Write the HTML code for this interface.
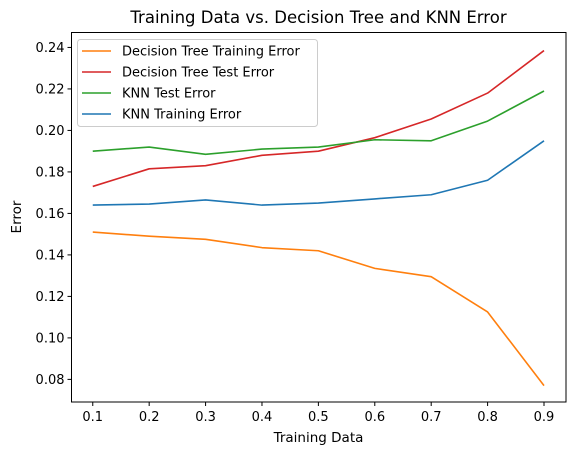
<!DOCTYPE html>
<html><head><meta charset="utf-8"><style>
body{margin:0;background:#fff}
svg text{font-family:"DejaVu Sans","Liberation Sans",sans-serif;fill:#000}
</style></head><body>
<svg id="chart" width="576" height="455" viewBox="0 0 576 455">
<rect width="576" height="455" fill="#fff"/>
<text x="318.5" y="23" font-size="16.5" text-anchor="middle">Training Data vs. Decision Tree and KNN Error</text>
<g id="marks"></g>
<rect x="71.5" y="32.5" width="494.5" height="369.5" fill="none" stroke="#000" stroke-width="1"/>
<g id="ticks"></g>
<text x="318.5" y="442" font-size="13.5" text-anchor="middle">Training Data</text>
<text x="0" y="0" font-size="13.5" text-anchor="middle" transform="translate(21,217) rotate(-90)">Error</text>
<g id="legend"></g>
</svg>
<script>
const xValues = [0.1,0.2,0.3,0.4,0.5,0.6,0.7,0.8,0.9];
const dtTrain = [0.151,0.149,0.1475,0.1435,0.142,0.1335,0.1295,0.1125,0.077];
const dtTest = [0.173,0.1815,0.183,0.188,0.190,0.1965,0.2055,0.218,0.2385];
const knnTest = [0.190,0.192,0.1885,0.191,0.192,0.1955,0.195,0.2045,0.219];
const knnTrain = [0.164,0.1645,0.1665,0.164,0.165,0.167,0.169,0.176,0.195];
const xTicks = [0.1,0.2,0.3,0.4,0.5,0.6,0.7,0.8,0.9];
const yTicks = [0.08,0.10,0.12,0.14,0.16,0.18,0.20,0.22,0.24];
const seriesNames = ["Decision Tree Training Error","Decision Tree Test Error","KNN Test Error","KNN Training Error"];

const NS="http://www.w3.org/2000/svg";
const L=71.5,R=566,T=32.5,B=402;
const xMin=0.0623,xMax=0.939,yMin=0.0691,yMax=0.2472;
function xs(v){return L+(v-xMin)/(xMax-xMin)*(R-L);}
function ys(v){return B-(v-yMin)/(yMax-yMin)*(B-T);}
function mk(tag,attrs,parent){const e=document.createElementNS(NS,tag);for(const k in attrs)e.setAttribute(k,attrs[k]);parent.appendChild(e);return e;}

const series=[[dtTrain,"#ff7f0e","dt-training-error-line"],[dtTest,"#d62728","dt-test-error-line"],[knnTest,"#2ca02c","knn-test-error-line"],[knnTrain,"#1f77b4","knn-training-error-line"]];
const marks=document.getElementById("marks");
series.forEach(s=>{
  const p=mk("polyline",{points:s[0].map((v,i)=>xs(xValues[i]).toFixed(2)+","+ys(v).toFixed(2)).join(" "),fill:"none",stroke:s[1],"stroke-width":"1.6","stroke-linejoin":"round"},marks);
  
  
});
const ticks=document.getElementById("ticks");
xTicks.forEach(t=>{
  const x=xs(t);
  const l=mk("line",{x1:x,x2:x,y1:B,y2:B+4,stroke:"#000"},ticks);
  
  
  const tx=mk("text",{x:x,y:B+19,"font-size":"13","text-anchor":"middle"},ticks);
  tx.textContent=t.toFixed(1);
  
  
});
yTicks.forEach(t=>{
  const y=ys(t);
  const l=mk("line",{x1:L-4,x2:L,y1:y,y2:y,stroke:"#000"},ticks);
  
  
  const tx=mk("text",{x:L-7,y:y+4.5,"font-size":"13","text-anchor":"end"},ticks);
  tx.textContent=t.toFixed(2);
  
  
});
const lg=document.getElementById("legend");


const box=mk("rect",{x:77.5,y:39.5,width:240,height:87,rx:3,fill:"#fff","fill-opacity":"0.8",stroke:"#ccc"},lg);


seriesNames.forEach((n,i)=>{
  const y=51+i*21;
  const l=mk("line",{x1:82,x2:111,y1:y,y2:y,stroke:series[i][1],"stroke-width":"1.6"},lg);
  
  
  const t=mk("text",{x:122,y:y+4.5,"font-size":"13"},lg);
  t.textContent=n;
  
  
});
</script>
</body></html>
